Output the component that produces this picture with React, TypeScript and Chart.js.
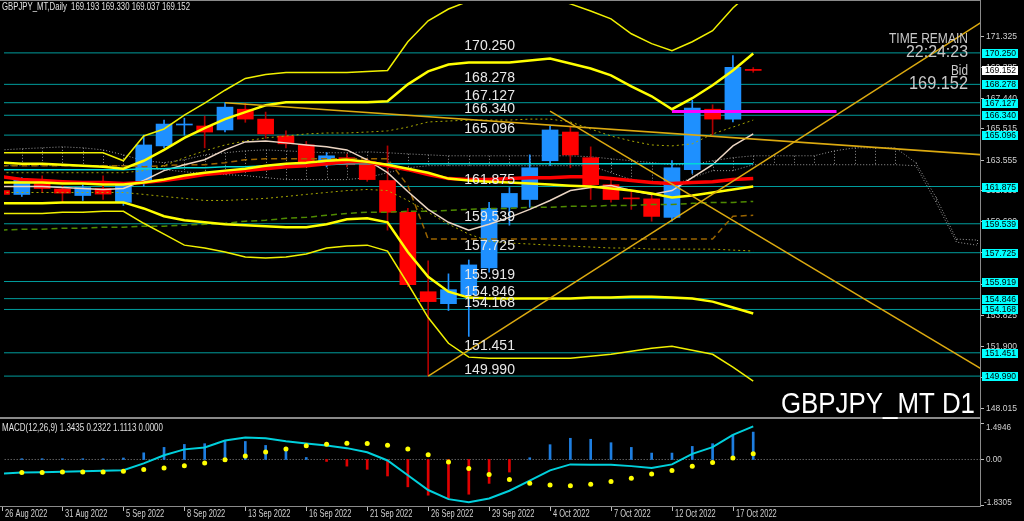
import React, { useEffect, useRef } from "react";
import { Chart, registerables } from "chart.js";

Chart.register(...registerables);

// ---------- data ----------
const dates = ["2022.08.26","2022.08.29","2022.08.30","2022.08.31","2022.09.01","2022.09.02","2022.09.05","2022.09.06","2022.09.07","2022.09.08","2022.09.09","2022.09.12","2022.09.13","2022.09.14","2022.09.15","2022.09.16","2022.09.19","2022.09.20","2022.09.21","2022.09.22","2022.09.23","2022.09.26","2022.09.27","2022.09.28","2022.09.29","2022.09.30","2022.10.03","2022.10.04","2022.10.05","2022.10.06","2022.10.07","2022.10.10","2022.10.11","2022.10.12","2022.10.13","2022.10.14","2022.10.17","2022.10.18"];

const openPrices = [161.62,161.375,162.06,161.72,161.31,161.75,160.88,162.12,164.42,165.73,165.67,165.42,166.72,166.10,165.04,164.48,163.24,163.68,163.43,162.25,160.26,155.28,154.53,155.09,156.77,160.57,161.06,163.49,165.29,163.68,161.99,161.15,161.10,159.94,162.93,166.72,166.10,169.193];
const highPrices = [161.85,162.43,162.55,161.90,162.00,162.55,162.00,165.10,166.04,166.16,166.29,167.13,167.10,166.54,165.36,164.70,164.00,163.90,163.60,164.42,160.50,157.21,156.40,157.27,160.88,161.81,163.86,165.67,165.60,164.36,162.30,161.62,161.40,163.50,167.28,167.00,170.08,169.330];
const lowPrices = [161.20,161.25,161.50,160.88,161.00,161.06,160.69,161.90,164.30,165.10,164.30,165.30,165.90,164.90,164.30,163.20,163.10,163.10,162.20,159.14,155.60,149.99,154.10,152.48,156.50,159.45,160.57,163.20,163.05,161.06,160.90,160.44,159.70,159.70,162.70,165.10,165.92,169.037];
const closePrices = [161.38,162.31,161.75,161.46,161.81,161.40,161.95,164.48,165.79,165.76,165.29,166.85,166.10,165.17,164.55,163.37,163.80,163.24,162.31,160.26,155.72,154.66,155.41,156.96,160.50,161.44,163.05,165.42,163.86,161.99,161.06,161.10,160.00,163.05,166.79,166.10,169.34,169.152];

const bbOuterUpper = [163.99,163.99,163.99,163.99,163.99,163.99,163.49,165.04,165.48,166.35,167.10,167.91,168.65,168.90,169.02,169.02,169.02,169.02,169.09,169.15,170.95,172.26,173.00,173.50,173.81,173.94,173.94,173.81,173.32,172.88,172.38,171.45,170.83,170.39,170.95,171.64,173.07,174.19];
const bbInnerUpper = [163.37,163.30,163.30,163.24,163.18,163.12,162.99,163.49,164.17,164.92,165.54,166.10,166.54,166.97,167.16,167.16,167.16,167.16,167.16,167.22,168.28,169.09,169.52,169.65,169.65,169.65,169.77,169.90,169.58,169.27,168.84,168.15,167.53,166.72,167.41,168.22,169.15,170.21];
const bbMiddle = [162.12,162.12,162.12,162.06,162.06,162.00,162.00,162.12,162.31,162.56,162.74,162.87,162.99,163.18,163.30,163.37,163.49,163.55,163.43,163.24,162.99,162.74,162.37,162.25,162.18,162.12,162.06,162.00,161.93,161.87,161.75,161.62,161.44,161.19,161.31,161.50,161.69,161.87];
const bbInnerLower = [160.82,160.82,160.82,160.88,160.88,160.88,160.88,160.50,160.01,159.76,159.63,159.51,159.45,159.39,159.32,159.32,159.51,159.82,159.88,159.63,157.77,156.21,155.28,154.91,154.85,154.85,154.85,154.85,154.85,154.91,154.91,154.97,154.97,154.91,154.85,154.66,154.29,153.91];
const bbOuterLower = [160.19,160.19,160.19,160.26,160.26,160.32,160.32,159.57,158.89,158.20,158.02,157.77,157.46,157.40,157.46,157.64,158.02,158.14,158.20,157.83,155.78,153.66,152.05,151.18,151.11,151.11,151.11,151.11,151.11,151.24,151.36,151.55,151.73,151.86,151.61,151.36,150.55,149.68];

const maRed = [162.49,162.31,162.25,162.18,162.12,162.12,162.06,162.12,162.25,162.43,162.62,162.74,162.87,162.99,163.12,163.18,163.30,163.43,163.43,163.18,162.93,162.62,162.37,162.31,162.31,162.37,162.43,162.43,162.49,162.49,162.37,162.25,162.12,162.06,162.12,162.18,162.31,162.37];
const maBeige = [161.87,161.87,161.87,161.81,161.75,161.69,161.75,162.25,162.87,163.24,163.55,164.17,164.67,164.73,164.61,164.48,164.36,164.17,163.55,162.74,161.56,160.44,159.63,159.14,159.51,159.94,160.44,161.00,161.62,161.81,161.93,161.62,161.38,161.62,162.43,163.24,164.42,165.17];
const maCyan = [162.93,162.93,162.93,162.93,162.93,162.93,162.93,162.99,162.99,163.05,163.05,163.12,163.12,163.18,163.18,163.24,163.24,163.30,163.30,163.30,163.30,163.30,163.30,163.30,163.30,163.30,163.30,163.30,163.30,163.30,163.30,163.30,163.30,163.30,163.30,163.30,163.30,163.30];
const envUpper = [162.74,162.74,162.74,162.74,162.74,162.74,162.74,162.87,163.18,163.68,164.11,164.48,164.73,164.92,165.04,165.17,165.23,165.23,165.29,165.36,165.60,165.92,165.98,166.04,166.04,166.04,166.10,166.10,165.92,165.48,165.04,164.73,164.48,164.42,164.55,165.17,165.60,166.04];
const envLower = [161.50,161.50,161.50,161.50,161.50,161.50,161.50,161.38,161.25,161.13,161.00,161.00,161.06,161.13,161.25,161.38,161.50,161.62,161.69,161.62,161.00,160.26,159.51,158.89,158.45,158.33,158.27,158.20,158.14,158.08,158.02,158.02,157.95,157.95,157.95,157.95,157.89,157.83];
const greenDashed = [159.14,159.20,159.20,159.26,159.26,159.32,159.32,159.39,159.39,159.45,159.51,159.57,159.70,159.76,159.88,159.94,160.07,160.19,160.26,160.26,160.32,160.32,160.38,160.44,160.50,160.50,160.57,160.57,160.63,160.63,160.69,160.69,160.75,160.75,160.82,160.88,160.88,160.94];
const brownDashed = [163.18,163.18,163.18,163.18,163.18,163.18,163.18,163.12,163.18,163.24,163.24,163.37,163.55,163.61,163.61,163.61,163.61,163.61,163.61,163.61,161.93,158.58,158.58,158.58,158.58,158.58,158.58,158.58,158.58,158.58,158.58,158.58,158.58,158.58,158.58,158.58,160.01,160.07];
const kumoA = [164.17,164.24,164.30,164.36,164.30,164.17,163.86,163.49,163.37,163.55,163.86,163.99,164.11,164.17,164.11,164.05,163.99,163.99,164.05,163.99,163.92,163.86,163.80,163.80,163.80,163.80,163.80,163.80,163.80,163.74,163.61,163.49,163.37,163.24,163.24,163.49,163.68,163.80,163.80,163.80,163.80,164.11,164.30,164.30,164.30,163.37,161.19,158.58,158.52];
const kumoB = [163.18,163.18,163.18,163.18,163.18,163.18,163.18,163.05,162.93,162.80,162.68,162.62,162.56,162.43,162.31,162.31,162.31,162.31,162.43,162.74,163.05,163.18,163.18,163.18,163.18,163.18,163.18,163.18,163.18,163.18,162.74,162.31,162.12,161.93,162.43,162.87,162.87,163.24,163.24,163.24,163.24,163.24,163.24,163.24,163.24,163.18,160.88,158.39,158.20];

const levels = [170.250,168.278,167.127,166.340,165.096,161.875,159.539,157.725,155.919,154.846,154.168,151.451,149.990];
const trendUpIdx = [21, 49];
const trendUpPrice = [149.99, 172.80];
const trendDownAIdx = [11, 49];
const trendDownAPrice = [167.127, 163.80];
const trendDownBIdx = [27, 49];
const trendDownBPrice = [166.60, 149.86];
const magentaIdx = [33, 41.1];
const magentaPrice = [166.58, 166.58];

const macdLine = [-0.58,-0.53,-0.52,-0.50,-0.48,-0.46,-0.44,-0.16,0.17,0.41,0.49,0.77,0.89,0.86,0.74,0.65,0.57,0.46,0.29,-0.04,-0.64,-1.24,-1.61,-1.74,-1.58,-1.27,-0.86,-0.44,-0.20,-0.21,-0.21,-0.27,-0.35,-0.20,0.23,0.50,1.00,1.3435];
const macdSignal = [-0.53,-0.53,-0.53,-0.51,-0.51,-0.51,-0.48,-0.41,-0.35,-0.25,-0.14,-0.01,0.14,0.30,0.43,0.56,0.62,0.66,0.65,0.58,0.42,0.19,-0.10,-0.37,-0.61,-0.81,-0.96,-1.04,-1.07,-1.01,-0.89,-0.76,-0.59,-0.45,-0.28,-0.12,0.06,0.2322];
const macdHist = [0.02,0.03,0.03,0.03,0.03,0.03,0.06,0.27,0.49,0.61,0.64,0.74,0.73,0.57,0.48,0.08,-0.08,-0.27,-0.40,-0.67,-1.11,-1.45,-1.58,-1.41,-0.97,-0.51,0.07,0.60,0.86,0.82,0.68,0.49,0.26,0.26,0.53,0.64,1.00,1.1113];

const priceTicks = [171.325,169.385,167.440,165.515,163.555,161.630,159.690,157.745,155.785,153.825,151.900,149.960,148.015];
const macdTicks = [1.4946, 0, -1.8305];
const macdTickLabels = ["1.4946", "0.00", "-1.8305"];
const xTickIdx = [0,3,6,9,12,15,18,21,24,27,30,33,36];
const xTickLabels = ["26 Aug 2022","31 Aug 2022","5 Sep 2022","8 Sep 2022","13 Sep 2022","16 Sep 2022","21 Sep 2022","26 Sep 2022","29 Sep 2022","4 Oct 2022","7 Oct 2022","12 Oct 2022","17 Oct 2022"];
const bidPrice = 169.152;
const headerText = "GBPJPY_MT,Daily  169.193 169.330 169.037 169.152";
const macdHeader = "MACD(12,26,9) 1.3435 0.2322 1.1113 0.0000";

// ---------- scale extents ----------
const X_MIN = 0.1225, X_MAX = 48.162;
const P_MIN = 141.848, P_MAX = 173.315;
const M_MIN = -1.888, M_MAX = 18.482;
const LEVEL_LABEL_IDX = 22.78;

const FONT = "Liberation Sans, Arial, sans-serif";

function drawText(ctx: CanvasRenderingContext2D, text: string, x: number, y: number, font: string, color: string, opt: { align?: CanvasTextAlign; baseline?: CanvasTextBaseline; width?: number; squeeze?: number } = {}) {
  ctx.save();
  ctx.font = font;
  ctx.fillStyle = color;
  ctx.textBaseline = opt.baseline || "middle";
  ctx.textAlign = opt.align || "left";
  const w = ctx.measureText(text).width;
  let sx = 1;
  if (opt.width) sx = opt.width / w;
  else if (opt.squeeze) sx = opt.squeeze;
  ctx.translate(x, y);
  ctx.scale(sx, 1);
  ctx.fillText(text, 0, 0);
  ctx.restore();
}

const mt4Plugin = {
  id: "mt4",
  beforeDraw(chart: any) {
    const { ctx, width, height } = chart;
    ctx.save();
    ctx.fillStyle = "#000";
    ctx.fillRect(0, 0, width, height);
    ctx.restore();
  },
  beforeDatasetsDraw(chart: any) {
    const { ctx, chartArea } = chart;
    const xs = chart.scales.x, ys = chart.scales.y;
    ctx.save();
    ctx.beginPath();
    ctx.rect(chartArea.left, chartArea.top, chartArea.right - chartArea.left, 416);
    ctx.clip();
    ctx.strokeStyle = "rgba(170,170,170,0.85)";
    ctx.lineWidth = 1;
    ctx.setLineDash([1, 2]);
    kumoA.forEach((a, i) => {
      const x = Math.round(xs.getPixelForValue(i)) + 0.5;
      ctx.beginPath();
      ctx.moveTo(x, ys.getPixelForValue(a));
      ctx.lineTo(x, ys.getPixelForValue(kumoB[i]));
      ctx.stroke();
    });
    ctx.restore();
  },
  afterDraw(chart: any) {
    const { ctx } = chart;
    const xs = chart.scales.x, ys = chart.scales.y, ms = chart.scales.m;
    const right = chart.chartArea.right;
    const bottom = chart.chartArea.bottom;
    ctx.save();
    // frame
    ctx.fillStyle = "#8a8a8a";
    ctx.fillRect(0, 0, right + 1, 1);
    ctx.fillRect(right, 0, 1, bottom + 1);
    ctx.fillRect(0, 417, right + 1, 2);
    ctx.fillRect(0, bottom, right + 1, 1);

    // level labels in chart
    levels.forEach((lv) => {
      const px = xs.getPixelForValue(LEVEL_LABEL_IDX);
      const py = ys.getPixelForValue(lv);
      drawText(ctx, lv.toFixed(3), px, py - 2.5, `14px ${FONT}`, "#e8e8e8", { baseline: "alphabetic" });
    });

    // price axis
    priceTicks.forEach((v) => {
      const py = Math.round(ys.getPixelForValue(v));
      ctx.fillStyle = "#bdbdbd";
      ctx.fillRect(right + 1, py, 3, 1);
      drawText(ctx, v.toFixed(3), right + 6, py + 0.5, `9.5px ${FONT}`, "#d0d0d0", { width: 31 });
    });
    levels.forEach((lv) => {
      const py = Math.round(ys.getPixelForValue(lv));
      ctx.fillStyle = "#00ffff";
      ctx.fillRect(right + 2, py - 4, 36, 9);
      drawText(ctx, lv.toFixed(3), right + 5, py + 0.5, `9.5px ${FONT}`, "#000", { width: 31 });
    });
    {
      const py = Math.round(ys.getPixelForValue(bidPrice));
      ctx.fillStyle = "#ffffff";
      ctx.fillRect(right + 2, py - 4, 36, 9);
      drawText(ctx, bidPrice.toFixed(3), right + 5, py + 0.5, `9.5px ${FONT}`, "#000", { width: 31 });
    }

    // macd axis
    macdTicks.forEach((v, i) => {
      const py = Math.round(ms.getPixelForValue(v));
      ctx.fillStyle = "#bdbdbd";
      ctx.fillRect(right + 1, py, 3, 1);
      const cy = i === 0 ? py + 4 : i === 2 ? py - 2.5 : py + 0.5;
      const lbl = macdTickLabels[i];
      drawText(ctx, lbl, right + (lbl.startsWith("-") ? 4 : 6), cy, `9.5px ${FONT}`, "#d0d0d0", { squeeze: 0.86 });
    });

    // x axis
    xTickIdx.forEach((idx, i) => {
      const px = Math.round(xs.getPixelForValue(idx));
      ctx.fillStyle = "#bdbdbd";
      ctx.fillRect(px, bottom + 1, 1, 4);
      drawText(ctx, xTickLabels[i], px + 3, bottom + 8, `11px ${FONT}`, "#d0d0d0", { squeeze: 0.68 });
    });

    // headers
    drawText(ctx, headerText, 2, 6.5, `11px ${FONT}`, "#e0e0e0", { width: 188 });
    drawText(ctx, macdHeader, 2, 428, `11px ${FONT}`, "#e0e0e0", { width: 161 });

    // time remain block
    drawText(ctx, "TIME REMAIN", 968, 39, `14px ${FONT}`, "#c8c8c8", { align: "right", width: 79 });
    drawText(ctx, "22:24:23", 968, 52.5, `16px ${FONT}`, "#c8c8c8", { align: "right", width: 62 });
    drawText(ctx, "Bid", 968, 71, `15px ${FONT}`, "#c8c8c8", { align: "right", width: 17 });
    drawText(ctx, "169.152", 968, 84.5, `18px ${FONT}`, "#c8c8c8", { align: "right", width: 59 });

    drawText(ctx, "GBPJPY_MT D1", 975, 413, `30px ${FONT}`, "#ffffff", { align: "right", baseline: "alphabetic", width: 194 });
    ctx.restore();
  },
};

const idxs = dates.map((_, i) => i);
const isBull = (i: number) => closePrices[i] >= openPrices[i];

function line(label: string, values: number[], color: string, width: number, order: number, dash: number[] = [], yAxisID = "y") {
  return {
    type: "line" as const,
    label,
    data: values.map((v, i) => ({ x: i, y: v })),
    borderColor: color,
    borderWidth: width,
    borderDash: dash,
    pointRadius: 0,
    tension: 0,
    fill: false,
    order,
    yAxisID,
  };
}

function seg(label: string, xsArr: number[], ysArr: number[], color: string, width: number, order: number, dash: number[] = [], yAxisID = "y") {
  return {
    type: "line" as const,
    label,
    data: xsArr.map((x, i) => ({ x, y: ysArr[i] })),
    borderColor: color,
    borderWidth: width,
    borderDash: dash,
    pointRadius: 0,
    tension: 0,
    fill: false,
    order,
    yAxisID,
  };
}

export default function App() {
  const ref = useRef<HTMLCanvasElement>(null);
  useEffect(() => {
    document.body.style.margin = "0";
    document.body.style.background = "#000";
    const datasets: any[] = [];
    levels.forEach((lv, i) => datasets.push(seg("level" + i, [X_MIN - 1, X_MAX + 1], [lv, lv], "#009c9c", 1, 20)));
    datasets.push(seg("zero", [X_MIN - 1, X_MAX + 1], [0, 0], "#8a8a8a", 1, 19, [1, 2], "m"));
    datasets.push(line("kumoA", kumoA, "rgba(170,170,170,0.9)", 1, 18, [1, 2]));
    datasets.push(line("kumoB", kumoB, "rgba(170,170,170,0.9)", 1, 18, [1, 2]));
    datasets.push({
      type: "bar",
      label: "wicks",
      data: idxs.map((i) => ({ x: i, y: [lowPrices[i], highPrices[i]] })),
      backgroundColor: idxs.map((i) => (isBull(i) ? "#1e90ff" : "#b00000")),
      barThickness: 1,
      grouped: false,
      order: 15,
      yAxisID: "y",
    });
    datasets.push({
      type: "bar",
      label: "bodies",
      data: idxs.map((i) => ({ x: i, y: [openPrices[i], closePrices[i]] })),
      backgroundColor: idxs.map((i) => (isBull(i) ? "#1e90ff" : "#ff0000")),
      barThickness: 16,
      minBarLength: 1,
      grouped: false,
      order: 14,
      yAxisID: "y",
    });
    datasets.push({
      type: "bar",
      label: "hist",
      data: idxs.map((i) => ({ x: i, y: macdHist[i] })),
      backgroundColor: idxs.map((i) => (macdHist[i] >= 0 ? "#1e7ee0" : "#e00000")),
      barThickness: 2,
      grouped: false,
      order: 13,
      yAxisID: "m",
    });
    datasets.push(line("envUpper", envUpper, "#a8a800", 1, 10, [2, 3]));
    datasets.push(line("envLower", envLower, "#a8a800", 1, 10, [2, 3]));
    datasets.push(line("green", greenDashed, "#4f8a00", 1.5, 10, [6, 4]));
    datasets.push(line("brown", brownDashed, "#9a6400", 1.5, 10, [6, 4]));
    datasets.push(line("cyanMA", maCyan, "#00d8d8", 1.5, 9));
    datasets.push(line("beige", maBeige, "#ecd6c4", 1.5, 9));
    datasets.push(line("bbOU", bbOuterUpper, "#f0f000", 1.5, 8));
    datasets.push(line("bbOL", bbOuterLower, "#f0f000", 1.5, 8));
    datasets.push(line("red", maRed, "#ff0000", 3.5, 7));
    datasets.push(line("bbIU", bbInnerUpper, "#ffff00", 2.5, 6));
    datasets.push(line("bbIL", bbInnerLower, "#ffff00", 2.5, 6));
    datasets.push(line("bbM", bbMiddle, "#ffff00", 2.5, 6));
    datasets.push(seg("trendUp", trendUpIdx, trendUpPrice, "#dcaa10", 1.5, 2));
    datasets.push(seg("trendDownA", trendDownAIdx, trendDownAPrice, "#dcaa10", 1.5, 2));
    datasets.push(seg("trendDownB", trendDownBIdx, trendDownBPrice, "#dcaa10", 1.5, 2));
    datasets.push(seg("magenta", magentaIdx, magentaPrice, "#ff00ff", 3, 1));
    datasets.push(line("macd", macdLine, "#00d0dc", 2, 1, [], "m"));
    datasets.push({
      type: "line",
      label: "signal",
      data: macdSignal.map((v, i) => ({ x: i, y: v })),
      showLine: false,
      pointRadius: 2.5,
      pointBackgroundColor: "#ffff00",
      pointBorderWidth: 0,
      order: 0,
      yAxisID: "m",
    });

    const chart = new Chart(ref.current as HTMLCanvasElement, {
      type: "bar",
      data: { datasets },
      options: {
        animation: false,
        responsive: false,
        events: [],
        layout: { padding: { left: 0, right: 44, top: 0, bottom: 15 } },
        plugins: { legend: { display: false }, tooltip: { enabled: false } },
        scales: {
          x: { type: "linear", min: X_MIN, max: X_MAX, display: false, offset: false },
          y: { type: "linear", min: P_MIN, max: P_MAX, display: false },
          m: { type: "linear", min: M_MIN, max: M_MAX, display: false },
        },
      } as any,
      plugins: [mt4Plugin],
    } as any);
    return () => chart.destroy();
  }, []);
  return (
    <div style={{ position: "fixed", left: 0, top: 0, width: 1024, height: 521, background: "#000" }}>
      <canvas ref={ref} width={1024} height={521} style={{ display: "block", width: 1024, height: 521 }} />
    </div>
  );
}
